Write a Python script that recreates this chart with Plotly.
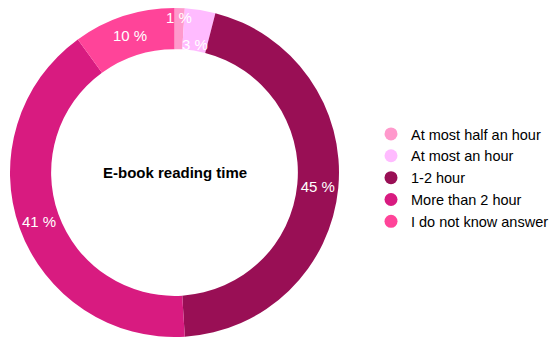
import math
import plotly.graph_objects as go

labels = ["At most half an hour", "At most an hour", "1-2 hour", "More than 2 hour", "I do not know answer"]
values = [1, 3, 45, 41, 10]
colors = ["#FF99CC", "#FFBBFF", "#990F55", "#D81B80", "#FF4499"]
title_text = "E-book reading time"

# page renders with an 8px body margin, so the figure is 8px smaller
W, H = 551, 331
FONT = "Liberation Sans, Arial, Helvetica, sans-serif"
L, R, T, B = 2, 220, 0, 2
PW = W - L - R  # 329
PH = H - T - B  # 329

# small slices get their labels drawn by annotations at data-derived angles
small = [v < 5 for v in values]
label_radius = {0: 0.945, 1: 0.79}  # fraction of outer radius (styling)
templates = ["" if s else "%{value} %" for s in small]

fig = go.Figure()
fig.add_trace(go.Pie(
    labels=labels, values=values, hole=0.75, sort=False, direction="clockwise",
    rotation=0,
    marker=dict(colors=colors, line=dict(width=0)),
    texttemplate=templates, textposition="inside", insidetextorientation="horizontal",
    textfont=dict(color="white", size=15, family=FONT),
    showlegend=False,
    hoverinfo="label+percent",
))
# legend entries with circle symbols
for lab, col in zip(labels, colors):
    fig.add_trace(go.Scatter(
        x=[None], y=[None], mode="markers", name=lab,
        marker=dict(symbol="circle", size=13, color=col),
        showlegend=True, hoverinfo="skip",
    ))

total = sum(values)
cum = 0
for i, v in enumerate(values):
    mid = (cum + v / 2) / total
    cum += v
    if not small[i]:
        continue
    ang = 2 * math.pi * mid
    rr = label_radius.get(i, 0.87) * 0.5  # outer radius = 0.5 of square plot area
    fig.add_annotation(text=f"{v} %", x=0.5 + rr * math.sin(ang), y=0.5 + rr * math.cos(ang),
                       xref="paper", yref="paper", xanchor="center", yanchor="middle",
                       borderpad=0,
                       showarrow=False, font=dict(size=15, color="white", family=FONT))

fig.add_annotation(text="<b>" + title_text + "</b>", x=0.5, y=0.5, xref="paper", yref="paper",
                   xanchor="center", yanchor="middle",
                   showarrow=False, font=dict(size=15, color="black", family=FONT))
fig.update_layout(
    width=W, height=H, margin=dict(l=L, r=R, t=T, b=B, autoexpand=False),
    paper_bgcolor="white", plot_bgcolor="white",
    font=dict(family=FONT, size=14, color="black"),
    xaxis=dict(visible=False), yaxis=dict(visible=False),
    legend=dict(x=(363 - L) / PW, y=1 - (170 - T) / PH, yanchor="middle", xanchor="left",
                font=dict(size=14.5, family=FONT), tracegroupgap=0, bgcolor="rgba(0,0,0,0)"),
    showlegend=True,
)
fig.write_html("out.html")
